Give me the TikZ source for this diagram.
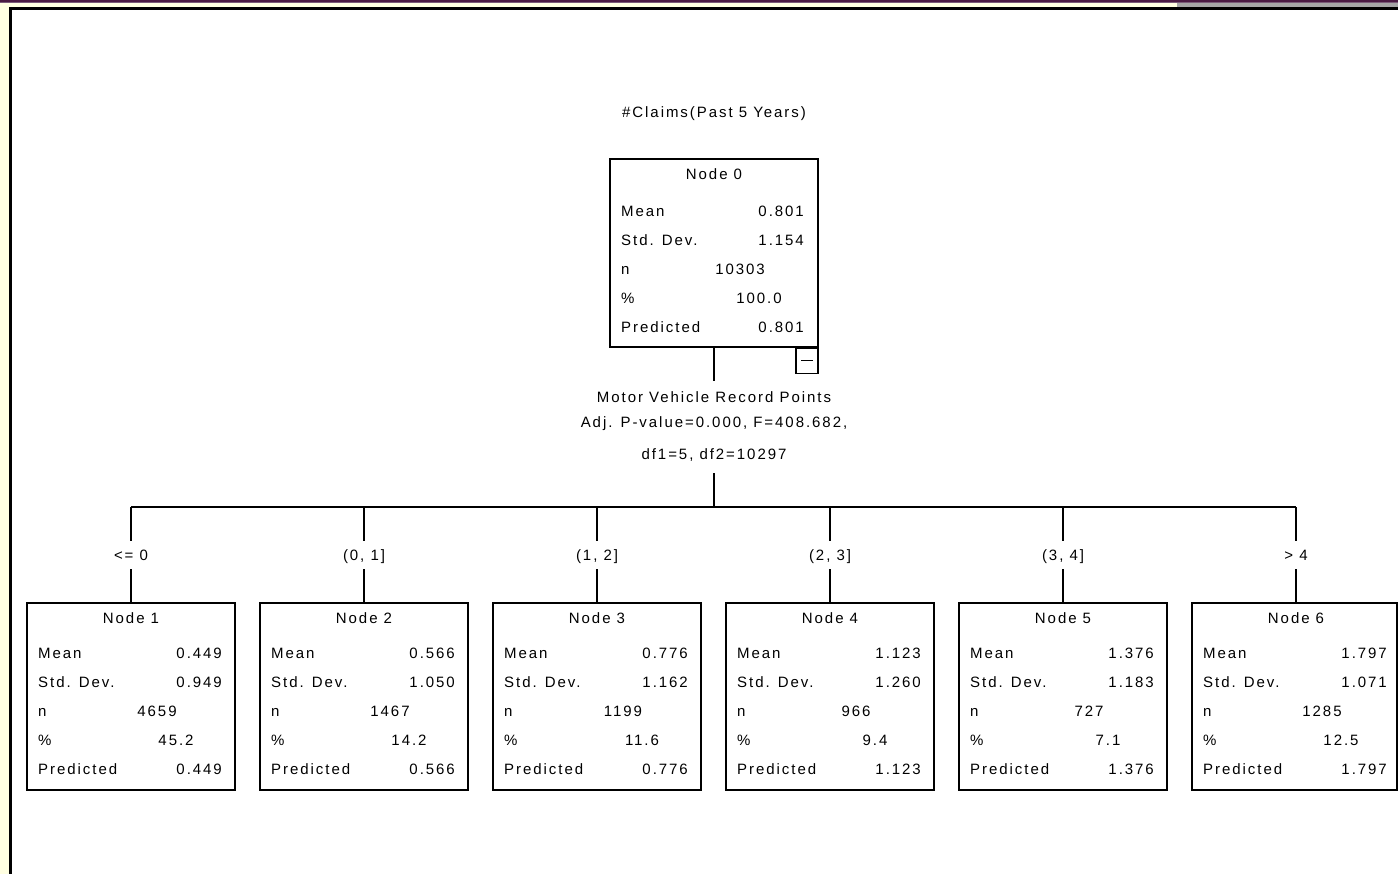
\documentclass[tikz,border=0pt]{standalone}
\usepackage{fontspec}
\newfontfamily\ms[LetterSpace=13]{Liberation Sans}
\definecolor{yellowbg}{HTML}{FFFFE1}
\definecolor{graybar}{HTML}{A6A6A6}
\definecolor{purpdark}{HTML}{4A1942}
\definecolor{purpmid}{HTML}{7A5A78}
\definecolor{ink}{HTML}{000000}
\begin{document}
\begin{tikzpicture}[x=1bp,y=-1bp,
  txt/.style={font={\ms\fontsize{15bp}{18bp}\selectfont}, inner sep=0pt, text height=10.5bp, text depth=0bp, text=ink},
  lft/.style={txt, anchor=west},
  rgt/.style={txt, anchor=east},
  nodebox/.style={draw=black, line width=1.2bp, inner sep=0pt, fill=white},
  edge/.style={draw=black, line width=1.2bp},
  branch/.style={txt, minimum height=28bp}]
\useasboundingbox (0,0) rectangle (1398,874);
% window background and frame
\fill[white] (0,0) rectangle (1398,874);
\fill[yellowbg] (0,0) rectangle (8.5,874);
\fill[yellowbg] (0,0) rectangle (1177,7);
\fill[graybar] (1177,0) rectangle (1398,7);
\fill[purpdark] (0,0) rectangle (1398,1.8);
\fill[purpmid] (0,1.8) rectangle (1398,2.8);
\fill[black] (8.5,6.8) rectangle (1398,9.8);
\fill[black] (8.5,6.8) rectangle (11.5,874);

% title
\node[txt] (title) at (714,112) {\#Claims(Past 5 Years)};

% root node
\node[nodebox, minimum width=208bp, minimum height=188bp] (n0) at (714,253) {};
\node[txt] (n0h) at (714,174) {Node 0};
\node[lft] (n0l1) at (621,211) {Mean};
\node[rgt] (n0v1) at (804,211) {0.801};
\node[lft] (n0l2) at (621,240) {Std. Dev.};
\node[rgt] (n0v2) at (804,240) {1.154};
\node[lft] (n0l3) at (621,269) {n};
\node[txt] (n0v3) at (740,269) {10303};
\node[lft] (n0l4) at (621,298) {\%};
\node[txt] (n0v4) at (759,298) {100.0};
\node[lft] (n0l5) at (621,327) {Predicted};
\node[rgt] (n0v5) at (804,327) {0.801};
% collapse box
\node[nodebox, minimum width=22bp, minimum height=25bp, anchor=north east] (n0c) at (n0.south east) {};
\draw[black, line width=1.2bp] ([xshift=-6bp]n0c.center) -- ([xshift=6bp]n0c.center);

% split description
\node[txt, minimum height=32bp] (sp1) at (714,397) {Motor Vehicle Record Points};
\node[txt] (sp2) at (714,422) {Adj. P-value=0.000, F=408.682,};
\node[txt, minimum height=38bp] (sp3) at (714,454) {df1=5, df2=10297};
\draw[edge] (n0.south) -- (sp1.north);
\coordinate (bar) at (714,507);
\draw[edge] (sp3.south) -- (bar);
\coordinate (barL) at (131,507);
\coordinate (barR) at (1296,507);
\draw[edge] (barL) -- (barR);

% child nodes
\foreach \i/\lab/\mean/\sd/\n/\pc/\w in {
  1/{<= 0}/0.449/0.949/4659/45.2/208,
  2/{(0, 1]}/0.566/1.050/1467/14.2/208,
  3/{(1, 2]}/0.776/1.162/1199/11.6/208,
  4/{(2, 3]}/1.123/1.260/966/9.4/208,
  5/{(3, 4]}/1.376/1.183/727/7.1/208,
  6/{> 4}/1.797/1.071/1285/12.5/205}{
  \pgfmathsetmacro\c{131+233*(\i-1)}
  \pgfmathsetmacro\bx{\c-104+\w/2}
  \coordinate (t\i) at (\c,507);
  \node[branch] (b\i) at (\c,555) {\lab};
  \node[nodebox, minimum width=\w bp, minimum height=187bp] (n\i) at (\bx,696.5) {};
  \draw[edge] (t\i) -- (b\i.north);
  \draw[edge] (b\i.south) -- (n\i.north -| t\i);
  \node[txt] (n\i h) at (\c,618) {Node \i};
  \node[lft] (n\i l1) at (\c-93,653) {Mean};
  \node[rgt] (n\i v1) at (\c+91,653) {\mean};
  \node[lft] (n\i l2) at (\c-93,682) {Std. Dev.};
  \node[rgt] (n\i v2) at (\c+91,682) {\sd};
  \node[lft] (n\i l3) at (\c-93,711) {n};
  \node[txt] (n\i v3) at (\c+26,711) {\n};
  \node[lft] (n\i l4) at (\c-93,740) {\%};
  \node[txt] (n\i v4) at (\c+45,740) {\pc};
  \node[lft] (n\i l5) at (\c-93,769) {Predicted};
  \node[rgt] (n\i v5) at (\c+91,769) {\mean};
}
\end{tikzpicture}
\end{document}
